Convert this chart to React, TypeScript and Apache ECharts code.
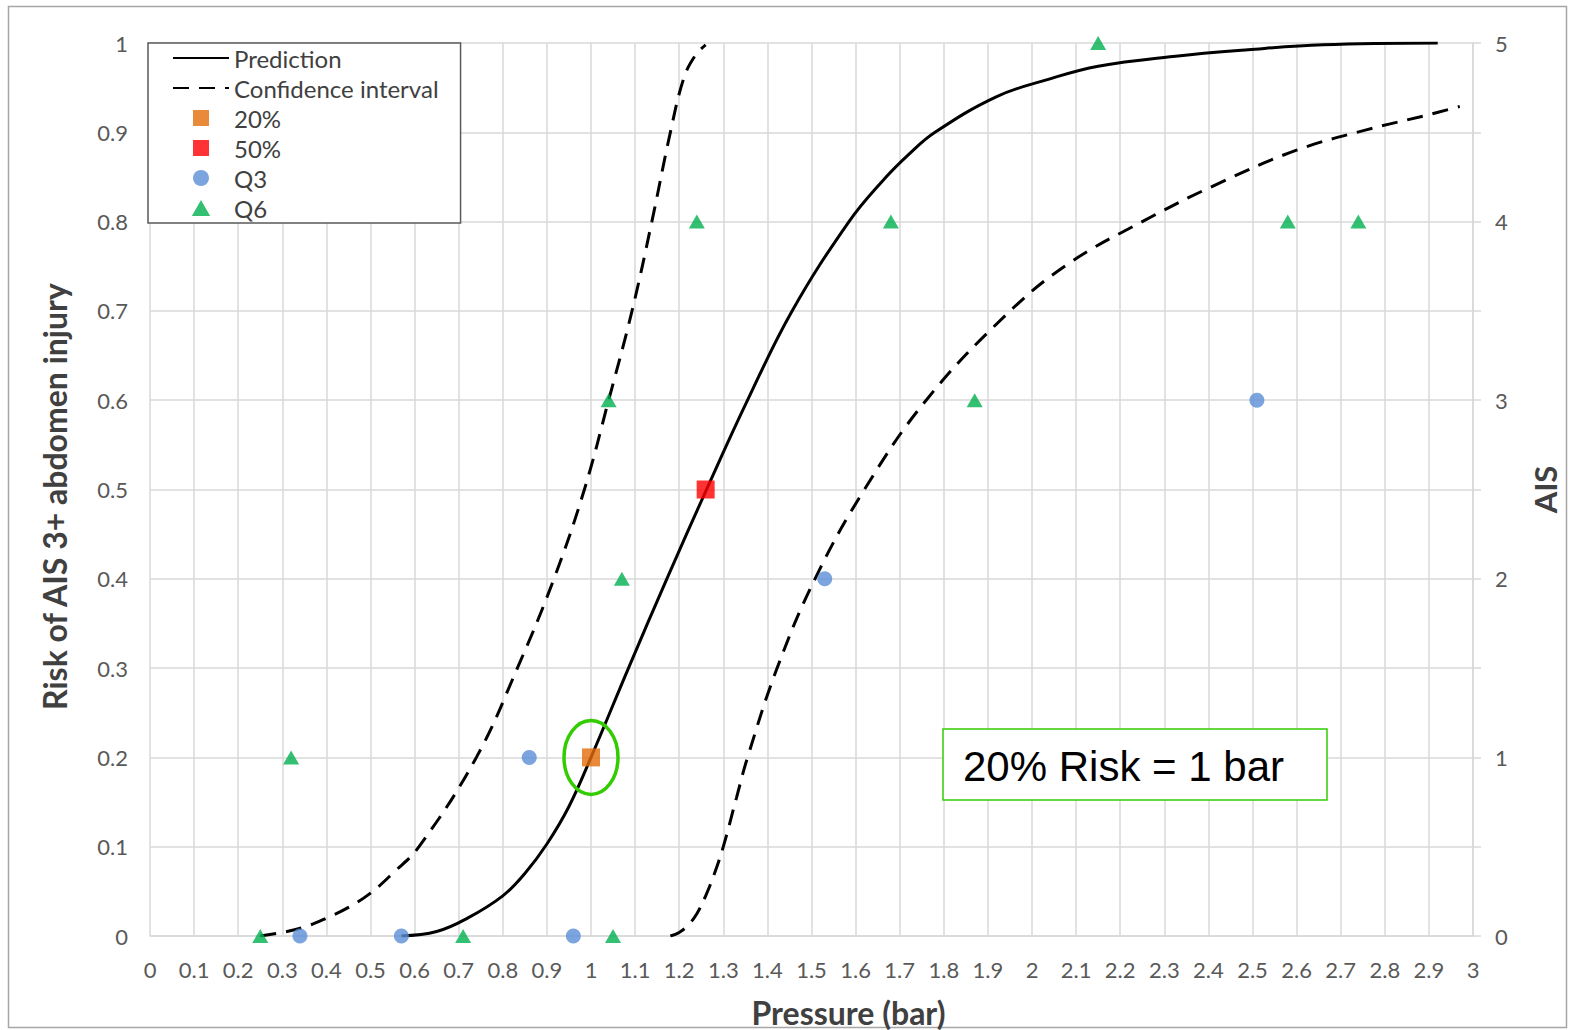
import React, { useEffect, useRef } from "react";
import * as echarts from "echarts";

// Prediction curve: [pressure (bar), risk]
const prediction: [number, number][] = [
  [0.57, 0], [0.65, 0.005], [0.72, 0.02], [0.8, 0.045], [0.85, 0.07], [0.9, 0.103],
  [0.95, 0.145], [1.0, 0.2], [1.085, 0.3], [1.172, 0.4], [1.262, 0.5], [1.355, 0.6],
  [1.456, 0.7], [1.585, 0.8], [1.66, 0.845], [1.72, 0.875], [1.78, 0.9], [1.92, 0.94],
  [2.035, 0.959], [2.15, 0.974], [2.32, 0.985], [2.49, 0.9925], [2.66, 0.998], [2.92, 1.0],
];

// Confidence interval, left bound
const ciLeft: [number, number][] = [
  [0.25, 0], [0.3, 0.004], [0.35, 0.01], [0.4, 0.02], [0.45, 0.032], [0.5, 0.048],
  [0.55, 0.07], [0.61, 0.1], [0.74, 0.2], [0.833, 0.3], [0.916, 0.4], [0.985, 0.5],
  [1.04, 0.6], [1.093, 0.7], [1.138, 0.8], [1.18, 0.9], [1.21, 0.96], [1.235, 0.985],
  [1.26, 0.998],
];

// Confidence interval, right bound
const ciRight: [number, number][] = [
  [1.18, 0], [1.2, 0.004], [1.22, 0.012], [1.24, 0.025], [1.26, 0.045], [1.28, 0.07],
  [1.3, 0.1], [1.33, 0.155], [1.355, 0.2], [1.422, 0.3], [1.508, 0.4], [1.62, 0.5],
  [1.76, 0.6], [1.94, 0.695], [2.08, 0.752], [2.25, 0.8], [2.42, 0.842], [2.6, 0.88],
  [2.76, 0.903], [2.894, 0.919], [2.97, 0.929],
];

// Risk markers (left axis)
const risk20: [number, number][] = [[1.0, 0.2]];
const risk50: [number, number][] = [[1.26, 0.5]];

// Observed AIS (right axis)
const q3: [number, number][] = [
  [0.34, 0], [0.57, 0], [0.96, 0], [0.86, 1], [1.53, 2], [2.51, 3],
];
const q6: [number, number][] = [
  [0.25, 0], [0.71, 0], [1.05, 0], [0.32, 1], [1.07, 2], [1.04, 3], [1.87, 3],
  [1.24, 4], [1.68, 4], [2.58, 4], [2.74, 4], [2.15, 5],
];

const annotationText = "20% Risk = 1 bar";

const LABEL_FONT = "Lato";
const GRID_COLOR = "#d9d9d9";
const LABEL_COLOR = "#595959";
const SQUARE_ICON = "path://M0,0L10,0L10,10L0,10Z";
const TRIANGLE_ICON = "path://M8,0L16,14L0,14Z";

export default function App() {
  const ref = useRef<HTMLDivElement>(null);

  useEffect(() => {
    if (!ref.current) return;
    const chart = echarts.init(ref.current, undefined, { renderer: "svg" });
    const fmt = (v: number) => String(Math.round(v * 10) / 10);

    const option: any = {
      animation: false,
      backgroundColor: "#ffffff",
      grid: { left: 150, top: 43, right: 97, bottom: 94, containLabel: false, outerBoundsMode: "none" },
      legend: {
        orient: "vertical",
        left: 148,
        top: 43,
        padding: [0, 22, 0, 24],
        itemGap: 0,
        itemWidth: 56,
        itemHeight: 16,
        symbolKeepAspect: true,
        backgroundColor: "#ffffff",
        borderColor: "#595959",
        borderWidth: 1.5,
        borderRadius: 0,
        textStyle: { fontFamily: LABEL_FONT, fontSize: 24, color: "#404040", lineHeight: 30, height: 30 },
        data: [
          { name: "Prediction", itemStyle: { opacity: 0 } },
          { name: "Confidence interval", itemStyle: { opacity: 0 } },
          { name: "20%", icon: SQUARE_ICON },
          { name: "50%", icon: SQUARE_ICON },
          { name: "Q3", icon: "circle" },
          { name: "Q6", icon: TRIANGLE_ICON },
        ],
        selectedMode: false,
      },
      xAxis: {
        type: "value",
        min: 0,
        max: 3,
        interval: 0.1,
        name: "Pressure (bar)",
        nameLocation: "middle",
        nameGap: 60,
        nameTextStyle: { fontFamily: LABEL_FONT, fontWeight: "bold", fontSize: 32, color: "#404040", padding: [0, 0, 0, 74] },
        axisLine: { show: true, lineStyle: { color: GRID_COLOR, width: 1.5 } },
        axisTick: { show: false },
        axisLabel: { formatter: fmt, fontFamily: LABEL_FONT, fontSize: 22, color: LABEL_COLOR, margin: 22 },
        splitLine: { show: true, lineStyle: { color: GRID_COLOR, width: 1.5 } },
      },
      yAxis: [
        {
          type: "value",
          min: 0,
          max: 1,
          interval: 0.1,
          position: "left",
          name: "Risk of AIS 3+ abdomen injury",
          nameLocation: "middle",
          nameGap: 80,
          nameTextStyle: { fontFamily: LABEL_FONT, fontWeight: "bold", fontSize: 32, color: "#404040", padding: [0, 14, 0, 0] },
          axisLine: { show: false },
          axisTick: { show: false },
          axisLabel: { formatter: fmt, fontFamily: LABEL_FONT, fontSize: 22, color: LABEL_COLOR, margin: 22 },
          splitLine: { show: true, lineStyle: { color: GRID_COLOR, width: 1.5 } },
        },
        {
          type: "value",
          min: 0,
          max: 5,
          interval: 1,
          position: "right",
          name: "AIS",
          nameLocation: "middle",
          nameRotate: 90,
          nameGap: 56,
          nameTextStyle: { fontFamily: LABEL_FONT, fontWeight: "bold", fontSize: 31, color: "#404040" },
          axisLine: { show: true, lineStyle: { color: GRID_COLOR, width: 1.5 } },
          axisTick: { show: true, length: 8, lineStyle: { color: GRID_COLOR, width: 1.5 } },
          minorTick: { show: true, splitNumber: 2, length: 8, lineStyle: { color: GRID_COLOR, width: 1.5 } },
          axisLabel: { fontFamily: LABEL_FONT, fontSize: 22, color: LABEL_COLOR, margin: 22 },
          splitLine: { show: false },
        },
      ],
      series: [
        {
          name: "Prediction",
          type: "line",
          data: prediction,
          smooth: 0.4,
          symbol: "none",
          lineStyle: { color: "#000000", width: 3 },
          itemStyle: { color: "#000000" },
          z: 3,
        },
        {
          name: "Confidence interval",
          type: "line",
          data: ciLeft,
          smooth: 0.4,
          symbol: "none",
          lineStyle: { color: "#000000", width: 3, type: [16, 10] },
          itemStyle: { color: "#000000" },
          z: 3,
        },
        {
          name: "Confidence interval",
          type: "line",
          data: ciRight,
          smooth: 0.4,
          symbol: "none",
          lineStyle: { color: "#000000", width: 3, type: [16, 10] },
          itemStyle: { color: "#000000" },
          z: 3,
        },
        {
          name: "20%",
          type: "scatter",
          data: risk20,
          symbol: "rect",
          symbolSize: 18,
          itemStyle: { color: "#E36C09" },
          z: 5,
        },
        {
          name: "50%",
          type: "scatter",
          data: risk50,
          symbol: "rect",
          symbolSize: 18,
          itemStyle: { color: "#FF0000" },
          z: 5,
        },
        {
          name: "Q3",
          type: "scatter",
          yAxisIndex: 1,
          data: q3,
          symbol: "circle",
          symbolSize: 15,
          itemStyle: { color: "#5B8FD8" },
          z: 4,
        },
        {
          name: "Q6",
          type: "scatter",
          yAxisIndex: 1,
          data: q6,
          symbol: "triangle",
          symbolSize: [16, 14],
          itemStyle: { color: "#00B050" },
          z: 4,
        },
      ],
    };
    chart.setOption(option);

    const c = chart.convertToPixel({ xAxisIndex: 0, yAxisIndex: 0 }, risk20[0]) as number[];
    chart.setOption({
      graphic: [
        {
          type: "rect",
          silent: true,
          shape: { x: 8.5, y: 6.5, width: 1558, height: 1021 },
          style: { fill: "none", stroke: "#a6a6a6", lineWidth: 1.5 },
          z: 0,
        },
        {
          type: "ellipse",
          silent: true,
          shape: { cx: c[0], cy: c[1], rx: 27, ry: 37 },
          style: { fill: "none", stroke: "#33CC00", lineWidth: 3.5 },
          z: 100,
        },
        {
          type: "rect",
          silent: true,
          shape: { x: 943, y: 729, width: 384, height: 71 },
          style: { fill: "#ffffff", stroke: "#33CC00", lineWidth: 1.5 },
          z: 100,
        },
        {
          type: "text",
          silent: true,
          x: 963,
          y: 766,
          style: {
            text: annotationText,
            fontFamily: "Liberation Sans",
            fontSize: 42,
            fill: "#000000",
            verticalAlign: "middle",
          },
          z: 101,
        },
      ],
    });

    return () => chart.dispose();
  }, []);

  return (
    <div
      ref={ref}
      style={{ position: "absolute", left: 0, top: 0, width: 1570, height: 1030 }}
    />
  );
}
